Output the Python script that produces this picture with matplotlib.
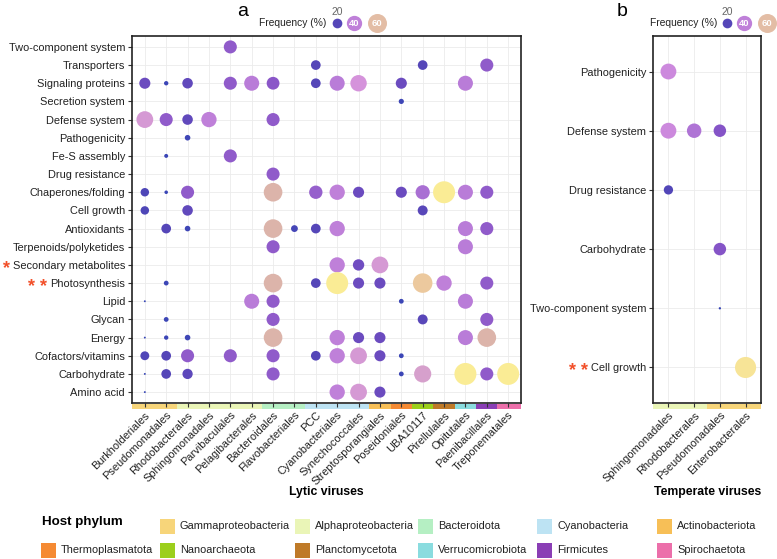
import numpy as np
import matplotlib
matplotlib.use("Agg")
import matplotlib.pyplot as plt
from matplotlib.colors import LinearSegmentedColormap, Normalize
from matplotlib.patches import Rectangle
from matplotlib.transforms import blended_transform_factory

plt.rcParams.update({
    "font.family": ["Liberation Sans", "DejaVu Sans"],
    "font.size": 7.9,
    "axes.linewidth": 1.2,
})

W, H = 777, 559
N = np.nan

# ---- data: panel a (lytic viruses) ----
functions_a = ["Two-component system", "Transporters", "Signaling proteins", "Secretion system",
               "Defense system", "Pathogenicity", "Fe-S assembly", "Drug resistance",
               "Chaperones/folding", "Cell growth", "Antioxidants", "Terpenoids/polyketides",
               "Secondary metabolites", "Photosynthesis", "Lipid", "Glycan", "Energy",
               "Cofactors/vitamins", "Carbohydrate", "Amino acid"]
orders_a = ["Burkholderiales", "Pseudomonadales", "Rhodobacterales", "Sphingomonadales",
            "Parvibaculales", "Pelagibacterales", "Bacteroidales", "Flavobacteriales", "PCC",
            "Cyanobacteriales", "Synechococcales", "Streptosporangiales", "Poseidoniales",
            "UBA10117", "Pirellulales", "Opitutales", "Paenibacillales", "Treponematales"]
phylum_a = ["Gammaproteobacteria", "Gammaproteobacteria", "Alphaproteobacteria",
            "Alphaproteobacteria", "Alphaproteobacteria", "Alphaproteobacteria", "Bacteroidota",
            "Bacteroidota", "Cyanobacteria", "Cyanobacteria", "Cyanobacteria", "Actinobacteriota",
            "Thermoplasmatota", "Nanoarchaeota", "Planctomycetota", "Verrucomicrobiota",
            "Firmicutes", "Spirochaetota"]
freq_a = [
    [N, N, N, N, 32, N, N, N, N, N, N, N, N, N, N, N, N, N],
    [N, N, N, N, N, N, N, N, 20, N, N, N, N, 20, N, N, 32, N],
    [25, 7, 23, N, 32, 39, 31, N, 20, 39, 46, N, 25, N, N, 39, N, N],
    [N, N, N, N, N, N, N, N, N, N, N, N, 9, N, N, N, N, N],
    [48, 32, 23, 40, N, N, 32, N, N, N, N, N, N, N, N, N, N, N],
    [N, N, 10, N, N, N, N, N, N, N, N, N, N, N, N, N, N, N],
    [N, 6, N, N, 32, N, N, N, N, N, N, N, N, N, N, N, N, N],
    [N, N, N, N, N, N, 32, N, N, N, N, N, N, N, N, N, N, N],
    [17, 5, 32, N, N, N, 58, N, 33, 40, 25, N, 25, 36, 77, 39, 32, N],
    [17, N, 23, N, N, N, N, N, N, N, N, N, N, 21, N, N, N, N],
    [N, 20, 10, N, N, N, 58, 13, 20, 40, N, N, N, N, N, 39, 32, N],
    [N, N, N, N, N, N, 32, N, N, N, N, N, N, N, N, 39, N, N],
    [N, N, N, N, N, N, N, N, N, 40, 26, 48, N, N, N, N, N, N],
    [N, 8, N, N, N, N, 58, N, 20, 77, 25, 25, N, 63, 40, N, 32, N],
    [1, N, N, N, N, 39, 32, N, N, N, N, N, 8, N, N, 39, N, N],
    [N, 8, N, N, N, N, 32, N, N, N, N, N, N, 21, N, N, 32, N],
    [1, 7, 10, N, N, N, 58, N, N, 40, 25, 25, N, N, N, 39, 58, N],
    [18, 20, 32, N, 32, N, 32, N, 20, 40, 48, 25, 8, N, N, N, N, N],
    [1, 20, 22, N, N, N, 32, N, N, N, N, N, 8, 50, N, 77, 32, 77],
    [1, N, N, N, N, N, N, N, N, 40, 48, 25, N, N, N, N, N, N],
]

# ---- data: panel b (temperate viruses) ----
functions_b = ["Pathogenicity", "Defense system", "Drug resistance", "Carbohydrate",
               "Two-component system", "Cell growth"]
orders_b = ["Sphingomonadales", "Rhodobacterales", "Pseudomonadales", "Enterobacterales"]
phylum_b = ["Alphaproteobacteria", "Alphaproteobacteria", "Gammaproteobacteria",
            "Gammaproteobacteria"]
freq_b = [
    [43, N, N, N],
    [43, 37, 30, N],
    [19, N, N, N],
    [N, N, 30, N],
    [N, N, 2, N],
    [N, N, N, 72],
]

stars_a = {"Secondary metabolites": "*", "Photosynthesis": "* *"}
stars_b = {"Cell growth": "* *"}

phylum_colors = {
    "Gammaproteobacteria": "#F7D57A", "Alphaproteobacteria": "#EAF5B7",
    "Bacteroidota": "#B5EFC3", "Cyanobacteria": "#BDE3F3", "Actinobacteriota": "#F7BF57",
    "Thermoplasmatota": "#F58A33", "Nanoarchaeota": "#9CCF1C", "Planctomycetota": "#BF7A28",
    "Verrucomicrobiota": "#8ADCDF", "Firmicutes": "#8A3EB5", "Spirochaetota": "#EC6FAA",
}
legend_row1 = ["Gammaproteobacteria", "Alphaproteobacteria", "Bacteroidota", "Cyanobacteria",
               "Actinobacteriota"]
legend_row2 = ["Thermoplasmatota", "Nanoarchaeota", "Planctomycetota", "Verrucomicrobiota",
               "Firmicutes", "Spirochaetota"]

# frequency -> colour / dot diameter (px)
VMAX = 80.0
stops = [(0, "#3344B5"), (10, "#3F46B6"), (20, "#5546B8"), (25, "#6A4BBF"), (31, "#8A56C8"),
         (38, "#B579D7"), (45, "#D590DF"), (52, "#D6A5C6"), (57, "#D9AFAD"), (63, "#ECC99E"),
         (75, "#FAEC95"), (80, "#FAEC95")]
CMAP = LinearSegmentedColormap.from_list("freq", [(v / VMAX, c) for v, c in stops])
NORM = Normalize(0, VMAX)


def dot_size(v):
    d = np.interp(v, [0, 20, 40, 60, 80], [1.5, 9.7, 15.3, 19.0, 22.5])
    return (d * 0.72) ** 2


fig = plt.figure(figsize=(W / 100, H / 100), dpi=100)


def px_axes(l, t, r, b):
    return fig.add_axes([l / W, 1 - b / H, (r - l) / W, (b - t) / H])


def draw_panel(ax, freq, functions, orders, phyla, pad=0.6):
    f = np.array(freq, dtype=float)
    nr, nc = f.shape
    yy, xx = np.mgrid[0:nr, 0:nc]
    m = ~np.isnan(f)
    v = f[m]
    ax.scatter(xx[m], yy[m], s=dot_size(v), c=CMAP(NORM(v)), linewidths=0, zorder=3)
    ax.set_xlim(-pad, nc - 1 + pad)
    ax.set_ylim(nr - 1 + pad, -pad)
    ax.set_xticks(range(nc))
    ax.set_xticklabels(orders, rotation=45, ha="right", rotation_mode="anchor")
    ax.set_yticks(range(nr))
    ax.set_yticklabels(functions)
    ax.grid(color="#EBEBEB", lw=0.6)
    ax.set_axisbelow(True)
    ax.tick_params(length=3, width=0.8, color="#333333", labelcolor="#222222", pad=2)
    for s in ax.spines.values():
        s.set_color("#222222")
    # phylum colour strip under x axis
    axh = ax.get_position().height * H
    tr = blended_transform_factory(ax.transData, ax.transAxes)
    x0, x1 = ax.get_xlim()
    for i, p in enumerate(phyla):
        left = x0 if i == 0 else i - 0.5
        right = x1 if i == nc - 1 else i + 0.5
        ax.add_patch(Rectangle((left, -5.5 / axh), right - left, 5 / axh, transform=tr,
                               facecolor=phylum_colors[p], edgecolor="none",
                               clip_on=False, zorder=0.3))


ax_a = px_axes(132, 36, 521, 403)
draw_panel(ax_a, freq_a, functions_a, orders_a, phylum_a)
ax_b = px_axes(653, 36, 761, 403)
draw_panel(ax_b, freq_b, functions_b, orders_b, phylum_b)

# overlay in pixel coordinates for legends and annotations
ov = fig.add_axes([0, 0, 1, 1], zorder=5)
ov.set_xlim(0, W)
ov.set_ylim(H, 0)
ov.axis("off")
ov.patch.set_alpha(0)

ov.text(243, 12, "a", fontsize=14, ha="center", va="center")
ov.text(622, 12, "b", fontsize=14, ha="center", va="center")
ov.text(326, 492, "Lytic viruses", fontsize=8.8, fontweight="bold", ha="center", va="center")
ov.text(708, 492, "Temperate viruses", fontsize=8.8, fontweight="bold", ha="center", va="center")

# frequency size legends
for x_text, xs in [(326, (337, 354, 377)), (717, (727, 744, 767))]:
    ov.text(x_text, 23, "Frequency (%)", fontsize=7.4, ha="right", va="center", color="#222222")
    for val, xd in zip((20, 40, 60), xs):
        ov.scatter([xd], [23], s=dot_size(val), c=[CMAP(NORM(val))], linewidths=0)
        if val == 20:
            ov.text(xd, 12, "20", fontsize=7.4, ha="center", va="center", color="#666666")
        else:
            ov.text(xd, 23.5, str(val), fontsize=6.8, ha="center", va="center", color="white",
                    fontweight="bold")

# host phylum legend
ov.text(42, 522, "Host phylum", fontsize=9.6, fontweight="bold", ha="left", va="center")
row1_x = [160, 295, 418, 537, 657]
row2_x = [41, 160, 295, 418, 537, 657]
for names, xs, yc in [(legend_row1, row1_x, 526), (legend_row2, row2_x, 550)]:
    for name, xq in zip(names, xs):
        ov.add_patch(Rectangle((xq, yc - 7.5), 15, 15, facecolor=phylum_colors[name],
                               edgecolor="none"))
        ov.text(xq + 20, yc, name, fontsize=7.9, ha="left", va="center", color="#222222")

# red asterisks next to selected function labels
fig.canvas.draw()
renderer = fig.canvas.get_renderer()
for ax, stars in [(ax_a, stars_a), (ax_b, stars_b)]:
    for lab in ax.get_yticklabels():
        if lab.get_text() in stars:
            bb = lab.get_window_extent(renderer)
            yc = H - (bb.y0 + bb.y1) / 2
            ov.text(bb.x0 - 3, yc + 3, stars[lab.get_text()], fontsize=13, fontweight="bold",
                    color="#F2502A", ha="right", va="center")

fig.savefig("out.png", dpi=100)
